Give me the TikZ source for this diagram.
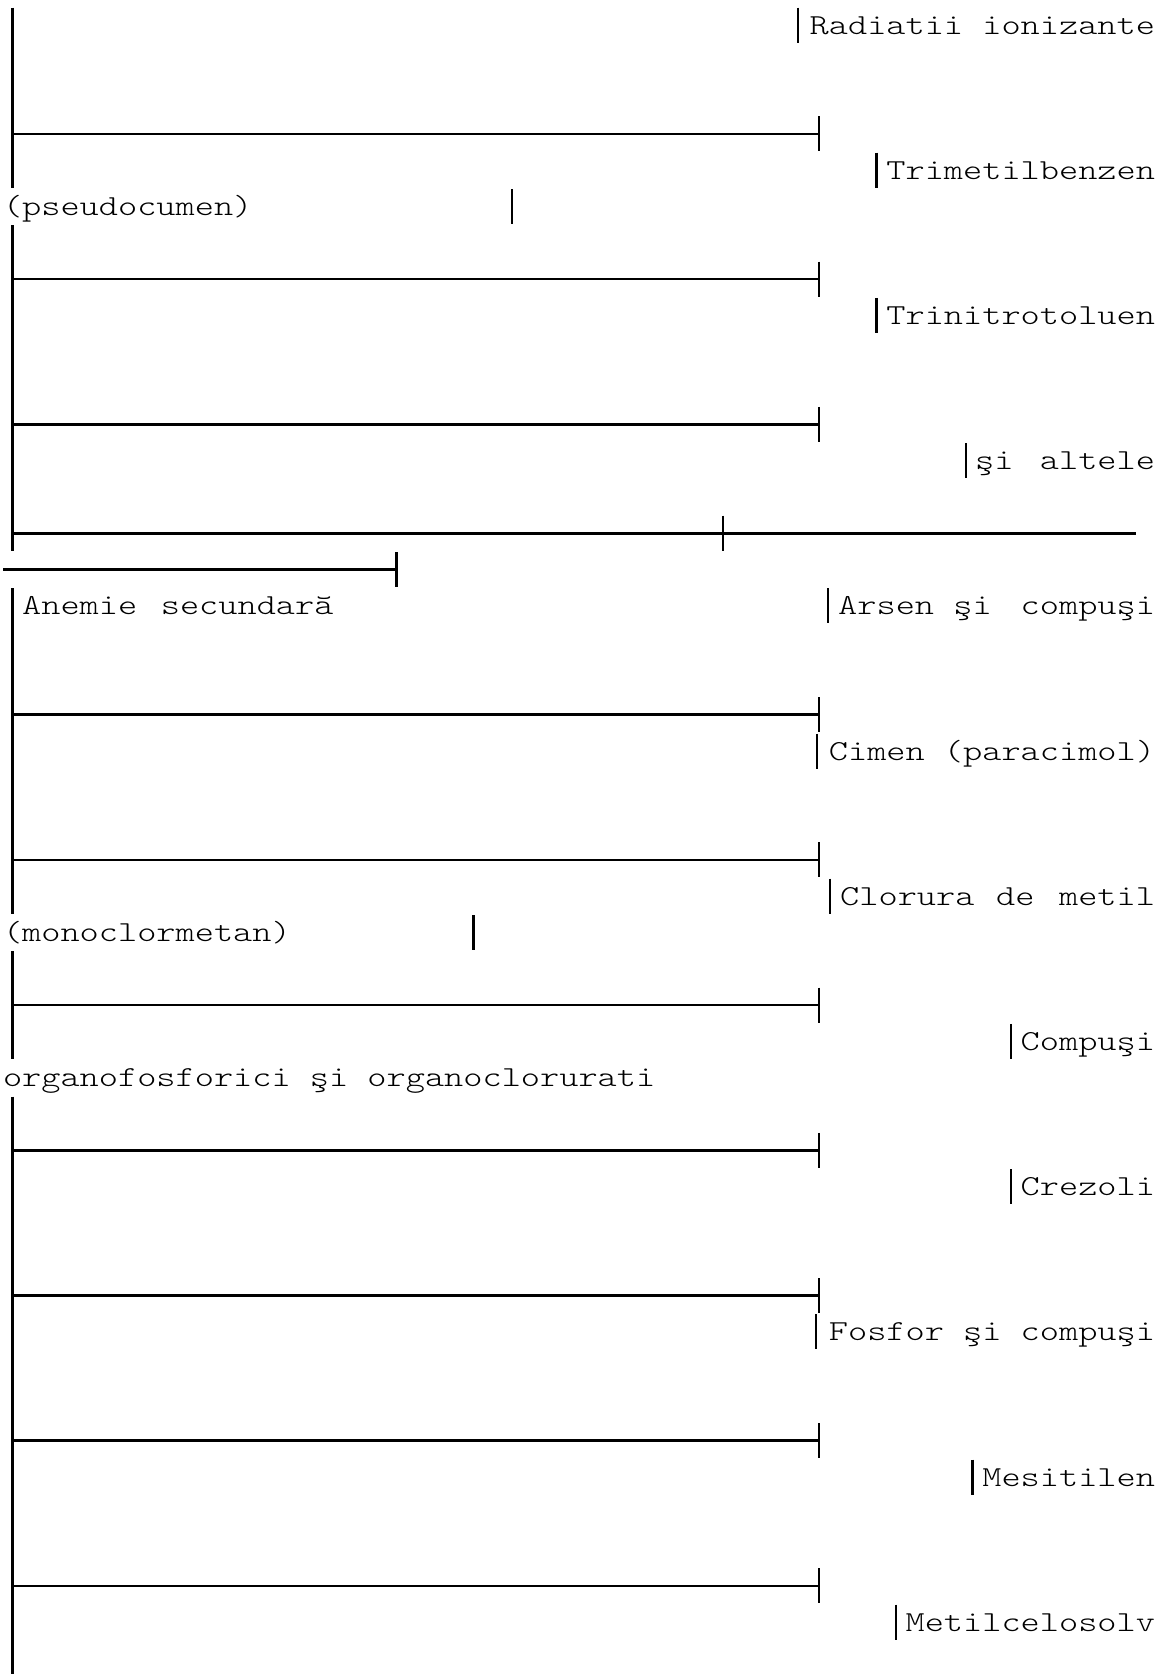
\documentclass[tikz,border=0pt]{standalone}
\usepackage{fontspec}
\newfontfamily\courfont{lmmonolt10-regular.otf}[FakeStretch=1.26]
\newcommand\rowy[1]{(25+36.3*(#1))}
\begin{document}
\begin{tikzpicture}[x=1pt,y=-1pt,
  txt/.style={font=\courfont\fontsize{29}{29}\selectfont,inner sep=0pt,outer sep=0pt,text=black},
  ln/.style={line width=2.6pt,black}]
\useasboundingbox (0,0) rectangle (1164,1674);
\fill[white] (0,0) rectangle (1164,1674);
\newcommand\vbar[2]{\draw[ln] (#1,{\rowy{#2}-17.5}) -- (#1,{\rowy{#2}+17.5});}
\newcommand\vrun[2]{\draw[ln] (12.6,{\rowy{#1}-17.5}) -- (12.6,{\rowy{#2}+17.5});}
\newcommand\teeline[1]{\draw[ln] (12.6,{\rowy{#1}}) -- (819,{\rowy{#1}}); \vbar{819}{#1}}
% left vertical runs
\vrun{0}{4}
\vrun{6}{14}
\vrun{16}{24}
\vrun{26}{28}
\vrun{30}{45}
% tee lines
\foreach \r in {3,7,11,19,23,27,31,35,39,43} {\teeline{\r}}
% row 14 cross line
\draw[ln] (12.6,{\rowy{14}}) -- (1135.8,{\rowy{14}});
\vbar{723}{14}
% row 15 short line
\draw[ln] (3,{\rowy{15}}) -- (396.6,{\rowy{15}});
\vbar{396.6}{15}
% bars before texts
\vbar{798}{0}
\vbar{876.6}{4}
\vbar{511.8}{5}
\vbar{876.6}{8}
\vbar{966}{12}
\vbar{828}{16}
\vbar{817}{20}
\vbar{830}{24}
\vbar{473.4}{25}
\vbar{1011}{28}
\vbar{1011}{32}
\vbar{816}{36}
\vbar{972.6}{40}
\vbar{895.8}{44}
% texts
\node[txt,anchor=base east] (t0) at (1155,{\rowy{0}+9}) {Radiatii ionizante};
\node[txt,anchor=base east] (t4) at (1155,{\rowy{4}+9}) {Trimetilbenzen};
\node[txt,anchor=base west] (t5) at (3,{\rowy{5}+9}) {(pseudocumen)};
\node[txt,anchor=base east] (t8) at (1155,{\rowy{8}+9}) {Trinitrotoluen};
\node[txt,anchor=base east] (t12) at (1155,{\rowy{12}+9}) {şi\hspace{26.4pt}altele};
\node[txt,anchor=base west] (t16a) at (22.2,{\rowy{16}+9}) {Anemie\hspace{23.6pt}secundară};
\node[txt,anchor=base east] (t16b) at (1155,{\rowy{16}+9}) {Arsen\hspace{19.2pt}şi\hspace{29pt}compuşi};
\node[txt,anchor=base east] (t20) at (1155,{\rowy{20}+9}) {Cimen (paracimol)};
\node[txt,anchor=base east] (t24) at (1155,{\rowy{24}+9}) {Clorura\hspace{21.6pt}de\hspace{24.6pt}metil};
\node[txt,anchor=base west] (t25) at (3,{\rowy{25}+9}) {(monoclormetan)};
\node[txt,anchor=base east] (t28) at (1155,{\rowy{28}+9}) {Compuşi};
\node[txt,anchor=base west] (t29) at (3,{\rowy{29}+9}) {organofosforici şi organoclorurati};
\node[txt,anchor=base east] (t32) at (1155,{\rowy{32}+9}) {Crezoli};
\node[txt,anchor=base east] (t36) at (1155,{\rowy{36}+9}) {Fosfor şi compuşi};
\node[txt,anchor=base east] (t40) at (1155,{\rowy{40}+9}) {Mesitilen};
\node[txt,anchor=base east] (t44) at (1155,{\rowy{44}+9}) {Metilcelosolv};
\end{tikzpicture}
\end{document}
